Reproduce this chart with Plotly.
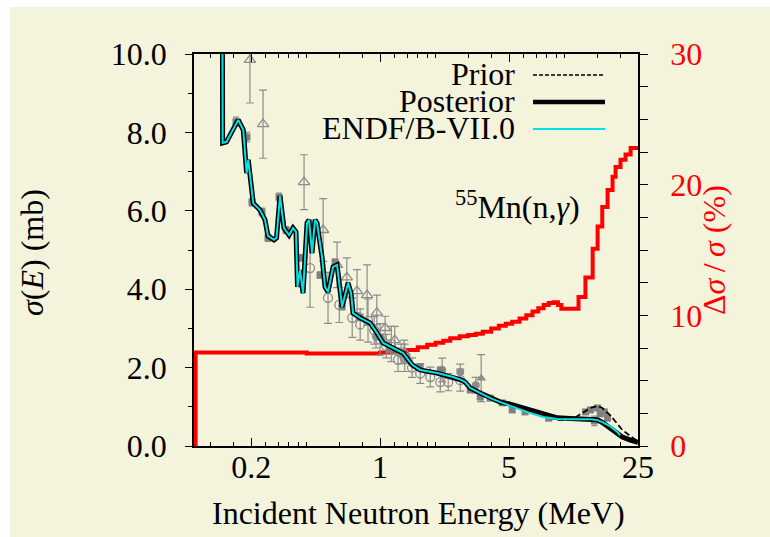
import plotly.graph_objects as go

# ---------------------------------------------------------------------------
# 55Mn(n,gamma) capture cross section: prior / posterior evaluation,
# ENDF/B-VII.0, experimental data and the relative posterior uncertainty.
# Energies in MeV, cross sections in mb, uncertainty in percent.
# ---------------------------------------------------------------------------

# Resonance / unresolved region (all three evaluations coincide here)
energy_res = [0.100, 0.1395, 0.1401, 0.1470, 0.1702, 0.1813, 0.1890, 0.1929, 0.1953,
              0.2054, 0.2233, 0.2377, 0.2467, 0.2660, 0.2745, 0.2867, 0.3013, 0.3209,
              0.3372, 0.3500, 0.3567, 0.3681, 0.3822, 0.4017, 0.4119, 0.4276, 0.4439,
              0.4551, 0.4845, 0.5030, 0.5222, 0.5559, 0.5844, 0.5991, 0.6220, 0.6457,
              0.6704, 0.6959, 0.7136, 0.7789, 0.8824, 0.9632, 1.038, 1.176, 1.333,
              1.492, 1.648, 2.039, 2.489, 2.770, 2.893, 3.078, 3.487, 3.953, 4.478]
sigma_res = [16.0, 12.0, 7.73, 7.76, 8.32, 8.06, 6.96, 7.30, 7.08,
             6.19, 6.02, 5.77, 5.36, 5.26, 5.31, 6.38, 5.56, 5.38,
             5.56, 5.46, 4.06, 4.49, 3.90, 5.69, 5.77, 4.92, 5.77,
             5.69, 4.82, 4.06, 3.93, 4.57, 4.62, 4.23, 3.55, 3.85,
             4.16, 3.90, 3.39, 3.27, 3.14, 2.88, 2.63, 2.50, 2.37,
             2.07, 1.94, 1.86, 1.76, 1.68, 1.63, 1.48, 1.35, 1.22, 1.12]

# Fast region, where the evaluations separate
energy_fast = [5.075, 5.750, 6.515, 7.664, 9.129, 10.74, 11.15, 12.63, 13.79,
               15.05, 16.02, 17.70, 19.32, 20.0, 20.57, 22.73, 24.80, 25.0]
posterior_fast = [1.07, 0.99, 0.91, 0.80, 0.72, 0.70, 0.70, 0.70, 0.69,
                  0.67, 0.60, 0.46, 0.31, 0.26, 0.23, 0.15, 0.10, 0.09]
prior_fast = [1.06, 0.98, 0.89, 0.76, 0.67, 0.66, 0.70, 0.85, 0.97,
              1.02, 0.97, 0.78, 0.55, 0.47, 0.41, 0.25, 0.14, 0.12]
energy_endf_fast = [5.075, 5.750, 6.515, 7.664, 9.129, 10.74, 11.15, 12.63, 13.79,
                    15.05, 16.02, 17.70, 19.32, 20.0]
endf_fast = [1.02, 0.93, 0.84, 0.74, 0.69, 0.68, 0.68, 0.68, 0.68,
             0.66, 0.61, 0.50, 0.36, 0.27]

# Relative uncertainty of the posterior (histogram steps)
unc_energy = [0.100, 0.100, 0.40, 1.00, 1.20, 1.40, 1.60, 1.80, 2.00, 2.20,
              2.40, 2.70, 3.00, 3.30, 3.60, 4.00, 4.40, 4.80, 5.20, 5.70,
              6.20, 6.70, 7.20, 7.70, 8.20, 8.70, 9.20, 9.60, 11.9, 12.97,
              14.2, 15.1, 16.0, 17.1, 18.2, 18.9, 20.1, 21.4, 22.8, 25.0]
unc_percent = [0.0, 7.16, 7.08, 7.15, 7.25, 7.35, 7.55, 7.75, 7.90, 8.05,
               8.25, 8.40, 8.50, 8.60, 8.75, 9.00, 9.20, 9.35, 9.50, 9.75,
               10.0, 10.3, 10.55, 10.8, 10.95, 11.0, 10.8, 10.5, 11.4, 12.9,
               15.1, 16.8, 18.3, 19.6, 20.6, 21.35, 21.9, 22.3, 22.8, 22.8]

# Experimental data sets
sq_energy = [0.1655, 0.1898, 0.2020, 0.2290, 0.2467, 0.2831, 0.3090, 0.3773, 0.4725,
             0.5699, 0.6220, 0.7790, 1.000, 1.130, 1.400, 1.648, 2.120, 3.080,
             3.490, 3.950, 4.590, 5.200, 6.100, 8.200, 13.0, 13.8, 14.5, 15.05,
             15.6, 16.4, 17.1]
sq_sigma = [8.27, 7.88, 6.22, 5.97, 5.31, 6.35, 5.51, 4.80, 4.36,
            4.69, 3.55, 3.29, 2.78, 2.45, 2.24, 2.02, 1.94, 1.43,
            1.25, 1.22, 1.10, 0.92, 0.87, 0.71, 0.87, 0.92, 0.64, 0.97,
            0.82, 0.87, 0.71]
sq_err = [0.12, 0.12, 0.10, 0.10, 0.09, 0.10, 0.09, 0.08, 0.08,
          0.08, 0.07, 0.07, 0.06, 0.06, 0.05, 0.05, 0.05, 0.05,
          0.05, 0.05, 0.05, 0.04, 0.04, 0.04, 0.06, 0.06, 0.12, 0.06,
          0.06, 0.06, 0.06]

tri_energy = [0.197, 0.232, 0.387, 0.491, 0.584, 0.660, 0.750, 0.850, 0.960, 1.065, 1.200, 1.350]
tri_sigma = [9.85, 8.21, 6.73, 5.51, 4.62, 4.30, 3.95, 3.85, 3.40, 3.01, 2.70, 2.40]
tri_err = [1.10, 0.87, 0.70, 0.80, 0.58, 0.50, 0.55, 0.77, 0.45, 0.30, 0.35, 0.30]

circ_energy = [0.417, 0.522, 0.601, 0.706, 0.780, 0.860, 0.930, 1.000, 1.080,
               1.150, 1.250, 1.360, 1.490, 1.650, 1.870, 2.120, 2.340, 2.720]
circ_sigma = [4.54, 3.78, 3.60, 3.27, 3.10, 3.20, 2.95, 2.72, 2.55,
              2.60, 2.20, 2.25, 2.00, 1.85, 1.76, 1.63, 1.63, 1.68]
circ_err = [1.00, 0.65, 0.45, 0.50, 0.40, 0.55, 0.35, 0.40, 0.30,
            0.45, 0.30, 0.35, 0.25, 0.25, 0.25, 0.25, 0.22, 0.28]

dot_energy = [0.95, 1.30, 2.17, 2.72, 3.30]
dot_sigma = [2.80, 2.35, 1.94, 1.89, 1.55]
dot_err = [0.30, 0.25, 0.30, 0.20, 0.20]

ftri_energy = [3.53]
ftri_sigma = [1.73]
ftri_err = [0.60]

# Axis ticks
x_major = [0.2, 1, 5, 25]
x_major_text = ["0.2", "1", "5", "25"]
x_minor = [0.12, 0.16, 0.24, 0.28, 0.32, 0.36, 0.4, 0.6, 0.8,
           1.2, 1.4, 1.6, 1.8, 2, 3, 4, 6, 7, 8, 9, 10, 15, 20]

# ---------------------------------------------------------------------------
W, H = 770, 537
L, R, T, B = 194, 638, 54, 446          # plot box in pixels
BEIGE = "rgb(244,244,221)"
GRAY = "rgb(140,140,140)"
CYAN = "rgb(0,225,232)"
FONT = "Liberation Serif, Times New Roman, serif"
FS = 32


def px(x):
    return (x - L) / (R - L)


def py(y):
    return (B - y) / (B - T)


fig = go.Figure()

# uncertainty (right axis, drawn beneath the cross sections)
fig.add_trace(go.Scatter(x=unc_energy, y=unc_percent, yaxis="y", mode="lines",
                         line=dict(color="rgb(255,0,0)", width=4, shape="hv")))


def err_kw(err, width):
    return dict(type="data", array=err, visible=True, color=GRAY,
                thickness=1.2, width=width)


fig.add_trace(go.Scatter(x=tri_energy, y=tri_sigma, yaxis="y2", mode="markers",
                         marker=dict(symbol="triangle-up-open", size=10, color=GRAY,
                                     line=dict(width=1.3, color=GRAY)),
                         error_y=err_kw(tri_err, 4)))
fig.add_trace(go.Scatter(x=circ_energy, y=circ_sigma, yaxis="y2", mode="markers",
                         marker=dict(symbol="circle-open", size=9, color=GRAY,
                                     line=dict(width=1.3, color=GRAY)),
                         error_y=err_kw(circ_err, 4)))
fig.add_trace(go.Scatter(x=dot_energy, y=dot_sigma, yaxis="y2", mode="markers",
                         marker=dict(symbol="circle", size=8, color=GRAY),
                         error_y=err_kw(dot_err, 4)))
fig.add_trace(go.Scatter(x=ftri_energy, y=ftri_sigma, yaxis="y2", mode="markers",
                         marker=dict(symbol="triangle-up", size=9, color=GRAY),
                         error_y=err_kw(ftri_err, 4)))
fig.add_trace(go.Scatter(x=sq_energy, y=sq_sigma, yaxis="y2", mode="markers",
                         marker=dict(symbol="square", size=7, color="rgb(128,128,128)"),
                         error_y=err_kw(sq_err, 3)))

# evaluations
fig.add_trace(go.Scatter(x=energy_res + energy_fast, y=sigma_res + prior_fast,
                         yaxis="y2", mode="lines",
                         line=dict(color="black", width=1.8, dash="6px,3px")))
fig.add_trace(go.Scatter(x=energy_res + energy_fast, y=sigma_res + posterior_fast,
                         yaxis="y2", mode="lines",
                         line=dict(color="black", width=5)))
fig.add_trace(go.Scatter(x=energy_res + energy_endf_fast, y=sigma_res + endf_fast,
                         yaxis="y2", mode="lines",
                         line=dict(color=CYAN, width=2)))

# key (text on the left, sample line on the right)
key = [("Prior", 74, dict(color="black", width=1.6, dash="4px,2px")),
       ("Posterior", 101, dict(color="black", width=4.5)),
       ("ENDF/B-VII.0", 128, dict(color=CYAN, width=2))]
annotations = []
shapes = [dict(type="rect", xref="paper", yref="paper", layer="below",
               x0=px(10), x1=px(W + 5), y0=py(H + 5), y1=py(7),
               fillcolor=BEIGE, line=dict(width=0))]
for label, yy, ln in key:
    annotations.append(dict(text=label, x=px(517), y=py(yy), xref="paper", yref="paper",
                            xanchor="right", yanchor="middle", showarrow=False,
                            font=dict(family=FONT, size=FS, color="black")))
    shapes.append(dict(type="line", xref="paper", yref="paper",
                       x0=px(533), x1=px(605), y0=py(yy + 1), y1=py(yy + 1), line=ln))

annotations += [
    dict(text="<sup>55</sup>Mn(n,<i>γ</i>)", x=px(517), y=py(205), xref="paper",
         yref="paper", showarrow=False, xanchor="center", yanchor="middle",
         font=dict(family=FONT, size=FS, color="black")),
    dict(text="<i>σ</i>(<i>E</i>) (mb)", x=px(32), y=py(253), xref="paper", yref="paper",
         showarrow=False, textangle=-90, xanchor="center", yanchor="middle",
         font=dict(family=FONT, size=FS, color="black")),
    dict(text="Δ<i>σ</i>\u2009/\u2009<i>σ</i> (%)", x=px(714), y=py(250), xref="paper",
         yref="paper", showarrow=False, textangle=-90, xanchor="center",
         yanchor="middle", font=dict(family=FONT, size=FS, color="rgb(255,0,0)")),
    dict(text="Incident Neutron Energy (MeV)", x=px(418), y=py(513), xref="paper",
         yref="paper", showarrow=False, xanchor="center", yanchor="middle",
         font=dict(family=FONT, size=FS, color="black")),
]

fig.update_layout(
    width=W, height=H, margin=dict(l=L, r=W - R, t=T, b=H - B, pad=0),
    paper_bgcolor="white", plot_bgcolor=BEIGE, showlegend=False,
    font=dict(family=FONT, size=FS, color="black"),
    xaxis=dict(type="log", range=[-1.0088, 1.3979], tickvals=x_major,
               ticktext=x_major_text, ticks="inside", ticklen=8, tickwidth=1.3,
               tickcolor="black", showline=True, linecolor="black", linewidth=1.6,
               mirror="ticks", showgrid=False, zeroline=False,
               ticklabelstandoff=-8,
               minor=dict(tickvals=x_minor, ticks="inside", ticklen=4,
                          tickwidth=1.1, tickcolor="black", showgrid=False)),
    yaxis=dict(range=[0, 30], side="right", tickvals=[0, 10, 20, 30],
               ticks="outside", ticklen=8, tickwidth=1.3, tickcolor="black",
               tickfont=dict(color="rgb(255,0,0)"), showline=True,
               linecolor="black", linewidth=1.6, showgrid=False, zeroline=False,
               ticklabelstandoff=16,
               minor=dict(dtick=2.5, tick0=0, ticks="outside", ticklen=8,
                          tickwidth=1.1, tickcolor="black", showgrid=False)),
    yaxis2=dict(range=[0, 10], side="left", overlaying="y", dtick=2, tick0=0,
                tickformat=".1f", ticks="outside", ticklen=7, tickwidth=1.3,
                tickcolor="black", showline=True, linecolor="black", linewidth=1.6,
                showgrid=False, zeroline=False, ticklabelstandoff=12,
                minor=dict(dtick=1, tick0=0, ticks="outside", ticklen=4,
                           tickwidth=1.1, tickcolor="black", showgrid=False)),
    annotations=annotations, shapes=shapes,
)

fig.write_html("out.html")
